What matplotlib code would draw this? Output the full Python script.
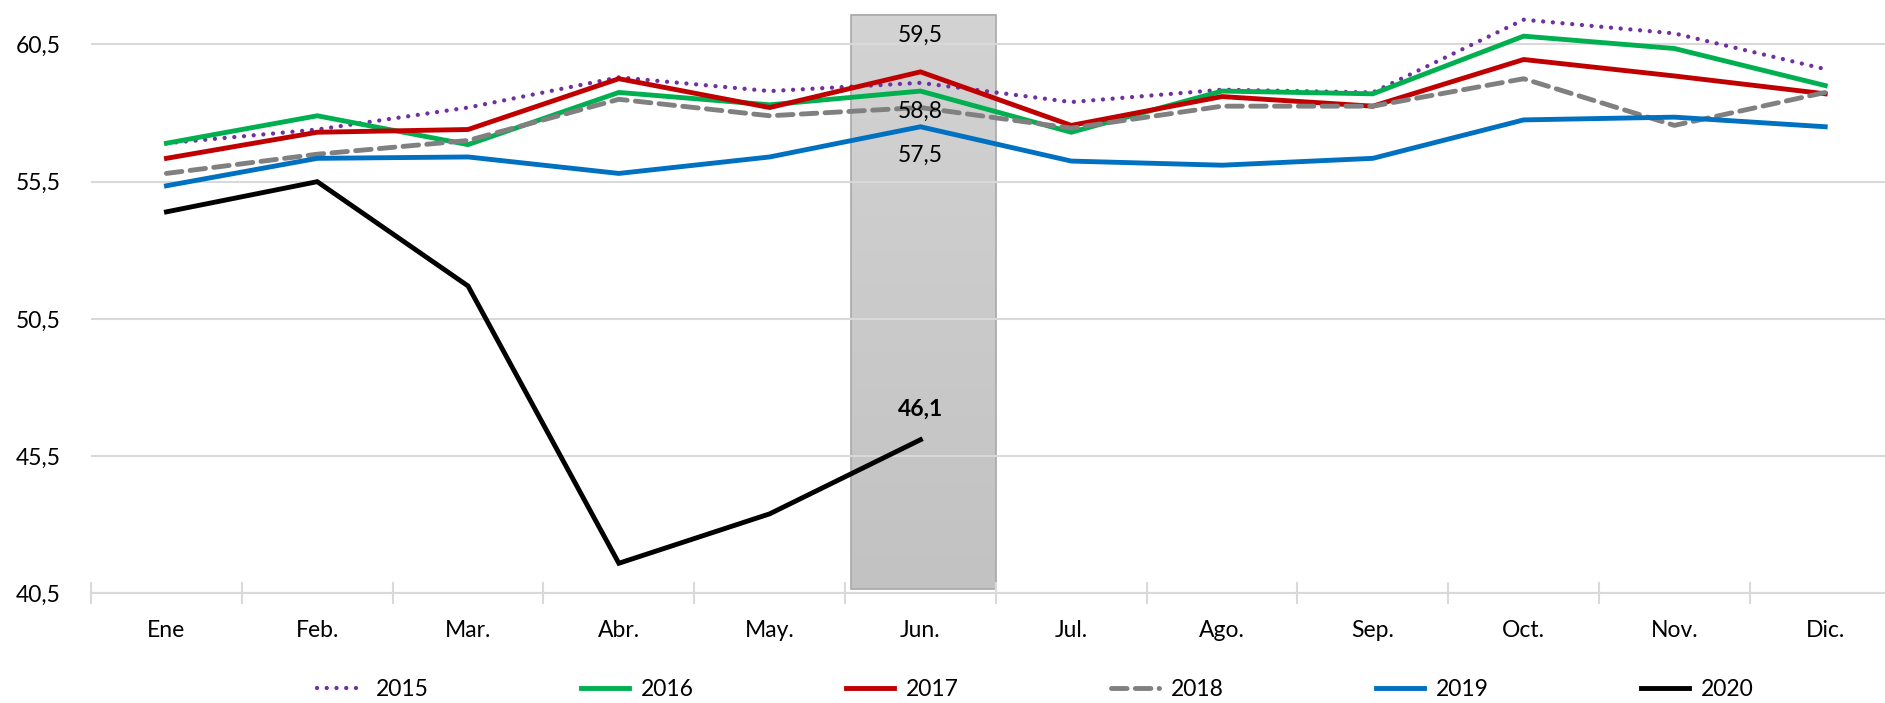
import numpy as np
import matplotlib
matplotlib.use("Agg")
import matplotlib.pyplot as plt

plt.rcParams['font.family'] = ['Lato', 'DejaVu Sans']

# Datos (lectura aproximada del gráfico)
meses = ["Ene", "Feb.", "Mar.", "Abr.", "May.", "Jun.", "Jul.", "Ago.", "Sep.", "Oct.", "Nov.", "Dic."]

v2015 = [56.9, 57.4, 58.2, 59.3, 58.8, 59.1, 58.4, 58.85, 58.75, 61.4, 60.9, 59.6]
v2016 = [56.9, 57.9, 56.85, 58.75, 58.3, 58.8, 57.3, 58.8, 58.7, 60.8, 60.35, 59.0]
v2017 = [56.35, 57.3, 57.4, 59.25, 58.2, 59.5, 57.55, 58.6, 58.25, 59.95, 59.35, 58.7]
v2018 = [55.8, 56.5, 57.0, 58.5, 57.9, 58.2, 57.45, 58.25, 58.25, 59.25, 57.55, 58.75]
v2019 = [55.35, 56.35, 56.4, 55.8, 56.4, 57.5, 56.25, 56.1, 56.35, 57.75, 57.85, 57.5]
v2020 = [54.4, 55.5, 51.7, 41.6, 43.4, 46.1]

anios = ["2015", "2016", "2017", "2018", "2019", "2020"]
series = [v2015, v2016, v2017, v2018, v2019, v2020]
colores = ["#7030a0", "#00b050", "#c00000", "#808080", "#0070c0", "#000000"]

fig = plt.figure(figsize=(18.85, 7.03), dpi=100)
ax = fig.add_axes([0.0483, 0.1558, 0.96, 0.824])

x = np.arange(len(meses))

for nombre, vals, c in zip(anios, series, colores):
    xs = x[:len(vals)]
    if nombre == "2015":
        ax.plot(xs, vals, color=c, lw=3.1, linestyle=(0, (0.01, 2.25)),
                dash_capstyle='round', label=nombre, zorder=3)
    elif nombre == "2018":
        ax.plot(xs, vals, color=c, lw=3.5, linestyle=(0, (3.2, 1.7)),
                dash_capstyle='round', label=nombre, zorder=3)
    else:
        ax.plot(xs, vals, color=c, lw=3.5, label=nombre, zorder=3,
                solid_joinstyle='miter')

# Rectángulo sombreado en junio
grad = np.linspace(0, 1, 100).reshape(-1, 1)
ax.imshow(grad, extent=(4.54, 5.5, 40.65, 61.57), aspect='auto',
          cmap=matplotlib.colors.LinearSegmentedColormap.from_list('g', ['#c2c2c2', '#d3d3d3']),
          origin='lower', zorder=0.2)
ax.add_patch(plt.Rectangle((4.54, 40.65), 0.96, 61.57 - 40.65, fill=False,
                           edgecolor='#a8a8a8', lw=1.2, zorder=0.3))

# Etiquetas de datos
ax.annotate("59,5", (5, v2017[5]), xytext=(0, 26.6), textcoords='offset points',
            ha='center', va='center', fontsize=16.5)
ax.annotate("58,8", (5, v2016[5]), xytext=(0, -14.4), textcoords='offset points',
            ha='center', va='center', fontsize=16.5)
ax.annotate("57,5", (5, v2019[5]), xytext=(0, -20.4), textcoords='offset points',
            ha='center', va='center', fontsize=16.5)
ax.annotate("46,1", (5, v2020[5]), xytext=(0, 22.3), textcoords='offset points',
            ha='center', va='center', fontsize=16.5, fontweight='bold')

ax.set_xlim(-0.5, 11.5)
ax.set_ylim(40.5, 61.6)
yt = [40.5, 45.5, 50.5, 55.5, 60.5]
ax.set_yticks(yt)
ax.set_yticklabels([f"{v:.1f}".replace('.', ',') for v in yt], fontsize=16.5)
ax.set_xticks(x)
ax.set_xticklabels(meses, fontsize=16.5)
ax.set_xticks(np.arange(-0.5, 12, 1), minor=True)

ax.tick_params(axis='y', length=0, pad=22)
ax.tick_params(axis='x', which='major', length=0, pad=19)
ax.tick_params(axis='x', which='minor', direction='inout', length=16, width=1.5, color='#d9d9d9')

ax.grid(axis='y', color='#d9d9d9', lw=1.5)
ax.set_axisbelow(True)
for s in ['top', 'right', 'left']:
    ax.spines[s].set_visible(False)
ax.spines['bottom'].set_color('#d9d9d9')
ax.spines['bottom'].set_linewidth(1.5)

fig.legend(loc='center', bbox_to_anchor=(0.549, 0.0185), ncol=6, frameon=False,
           fontsize=16.5, handlelength=2.1, handletextpad=0.5, columnspacing=6.65)

fig.savefig("out.png", dpi=100)
